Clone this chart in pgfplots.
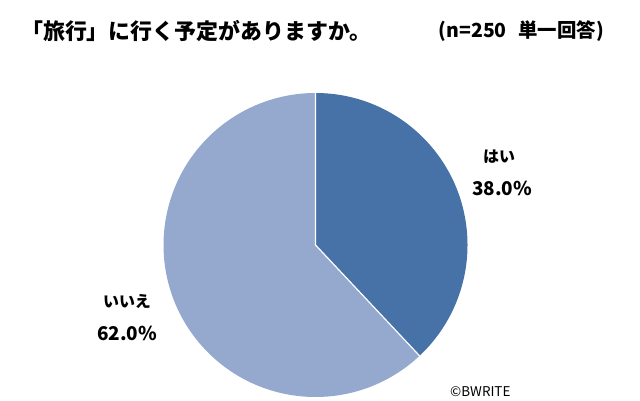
\documentclass[border=0pt]{standalone}
\usepackage{pgfplots}
\usepackage{pgfplotstable}
\pgfplotsset{compat=1.18}
\usepackage{fontspec}
\setmainfont{Noto Sans CJK JP}
\definecolor{yesc}{HTML}{4672A7}
\definecolor{noc}{HTML}{95A9CF}
\pgfplotstableread{
label value
yes 38.0
no 62.0
}\piedata
\begin{document}
\begin{tikzpicture}[x=1bp,y=1bp]
\path[use as bounding box] (0,0) rectangle (640,400);
\pgfplotstablegetelem{0}{value}\of\piedata
\pgfmathsetmacro{\va}{\pgfplotsretval}
\pgfmathsetmacro{\aend}{90-3.6*\va}
\begin{axis}[hide axis, scale only axis, width=304bp, height=304bp,
  xmin=-1, xmax=1, ymin=-1, ymax=1, anchor=origin, at={(315.5bp,155bp)},
  clip=false]
\fill[noc] (axis cs:0,0) -- (axis cs:{cos(\aend)},{sin(\aend)}) arc[start angle=\aend, end angle=-270, radius=152bp] -- cycle;
\fill[yesc] (axis cs:0,0) -- (axis cs:0,1) arc[start angle=90, end angle=\aend, radius=152bp] -- cycle;
\draw[white, line width=1.2bp] (axis cs:0,1) -- (axis cs:0,0) -- (axis cs:{cos(\aend)},{sin(\aend)});
\end{axis}
\node[anchor=west, font=\fontsize{22}{24}\selectfont\bfseries, inner sep=0] at (21,369) {「旅行」に行く予定がありますか。};
\node[anchor=east, font=\fontsize{19.5}{21}\selectfont\bfseries, inner sep=0] at (604,369) {(n=250\hspace{0.6em}単一回答)};
\node[font=\fontsize{16}{17}\selectfont\bfseries, inner sep=0] at (499,243) {はい};
\node[font=\fontsize{19}{20}\selectfont\bfseries, inner sep=0] at (502,212) {38.0\%};
\node[font=\fontsize{16}{17}\selectfont\bfseries, inner sep=0] at (127,99) {いいえ};
\node[font=\fontsize{19}{20}\selectfont\bfseries, inner sep=0] at (127,67) {62.0\%};
\node[anchor=west, font=\fontsize{13.5}{14}\selectfont, inner sep=0] at (450,8) {©BWRITE};
\end{tikzpicture}
\end{document}
